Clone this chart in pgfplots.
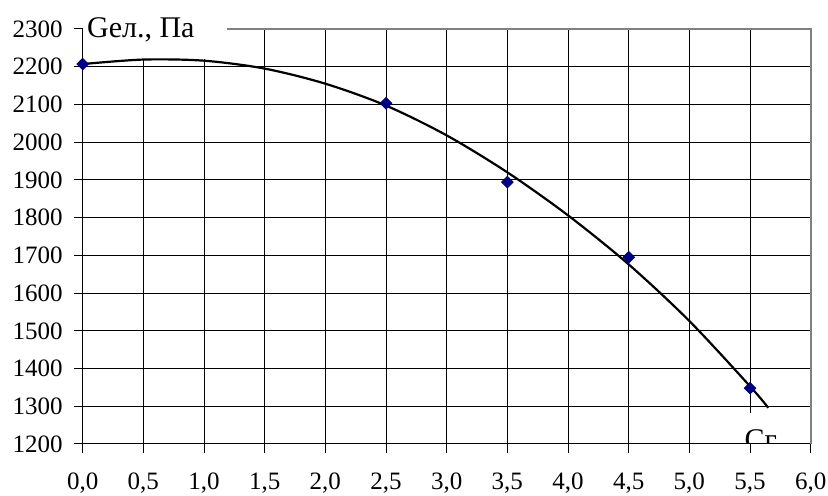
\documentclass[border=0pt]{standalone}
\usepackage{fontspec}
\setmainfont{Liberation Serif}
\usepackage{pgfplots}
\pgfplotsset{compat=1.18}
\definecolor{navyblue}{RGB}{0,0,128}
\definecolor{bordergray}{RGB}{128,128,128}
\begin{document}
\begin{tikzpicture}
\begin{axis}[
  scale only axis, width=364pt, height=207.5pt,
  xmin=0, xmax=6, ymin=1200, ymax=2300,
  xtick={0,0.5,1,1.5,2,2.5,3,3.5,4,4.5,5,5.5,6},
  ytick={1200,1300,1400,1500,1600,1700,1800,1900,2000,2100,2200,2300},
  grid=major, major grid style={black, line width=0.5pt},
  axis x line*=bottom, axis y line*=left,
  axis line style={black, line width=0.5pt, -},
  tick align=outside, major tick length=4.5pt,
  tick style={black, line width=0.5pt},
  /pgf/number format/assume math mode=true,
  xticklabel style={yshift=-6.5pt, /pgf/number format/.cd, fixed, fixed zerofill, precision=1, use comma},
  yticklabel style={xshift=-2pt, /pgf/number format/.cd, fixed, 1000 sep={}},
  ticklabel style={font=\fontsize{12.5}{14}\selectfont},
  clip=false,
]
% white box behind the y label
\fill[white] ([shift={(0.4pt,10pt)}]rel axis cs:0,1) rectangle ([shift={(72pt,-15pt)}]rel axis cs:0,1);
% white box behind the x label
\fill[white] ([shift={(-34.5pt,15.5pt)}]rel axis cs:1,0) rectangle ([shift={(-2pt,0.3pt)}]rel axis cs:1,0);
% gray border top and right
\draw[bordergray, line width=0.8pt] ([xshift=72pt]rel axis cs:0,1) -- (rel axis cs:1,1) -- (rel axis cs:1,0);
% trend curve
\addplot[black, line width=1.1pt, smooth] coordinates {
  (0,2207) (0.5,2219) (1.0,2216) (1.5,2195) (2.0,2155) (2.5,2097)
  (3.0,2018) (3.5,1920) (4.0,1806) (4.5,1676) (5.0,1526) (5.5,1353) (5.65,1296)
};
% data points
\addplot[only marks, mark=square*, mark size=2.05pt, mark options={rotate=45, fill=navyblue, draw=navyblue}] coordinates {
  (0,2207) (2.5,2103) (3.5,1894) (4.5,1695) (5.5,1348)
};
\node[anchor=base west, inner sep=0pt, font=\fontsize{15}{17}\selectfont] at ([shift={(2pt,-4.15pt)}]rel axis cs:0,1) {Gел., Па};
\begin{scope}
\clip ([shift={(-40pt,0.25pt)}]rel axis cs:1,0) rectangle ([shift={(0pt,20pt)}]rel axis cs:1,0);
\node[anchor=base west, inner sep=0pt, font=\fontsize{15}{17}\selectfont] at ([shift={(-33.2pt,-3pt)}]rel axis cs:1,0) {Cг};
\end{scope}
\end{axis}
\pgfresetboundingbox
\path ([shift={(-41.35pt,-26pt)}]current axis.south west) rectangle ([shift={(8.65pt,14.5pt)}]current axis.north east);
\end{tikzpicture}
\end{document}
